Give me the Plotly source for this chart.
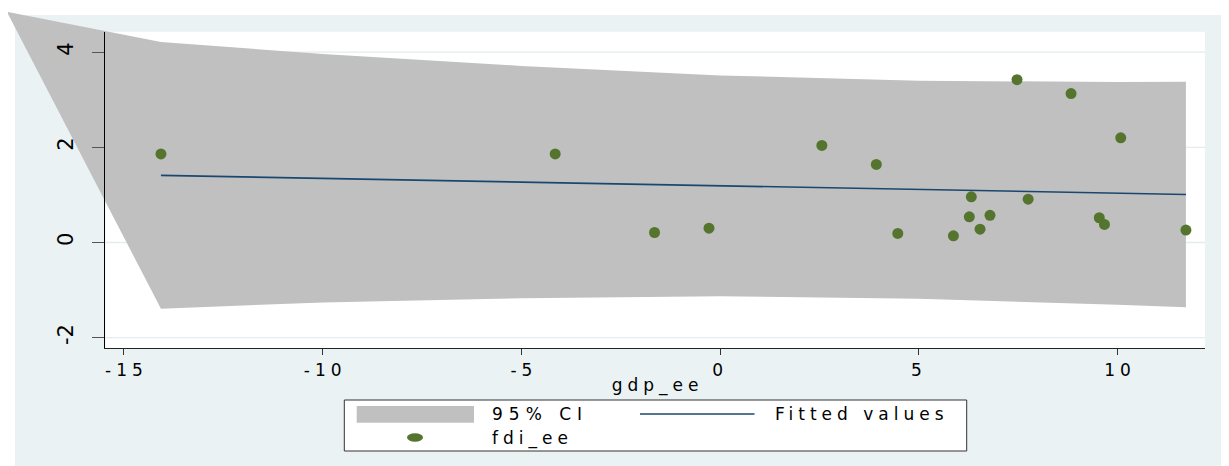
import plotly.graph_objects as go

# ---------------- data ----------------
gdp_ee = [-14.07, -4.15, -1.65, -0.28, 2.56, 3.93, 4.47, 5.87, 6.27, 6.32,
          6.54, 6.79, 7.47, 7.75, 8.83, 9.54, 9.67, 10.08, 11.72]
fdi_ee = [1.86, 1.86, 0.21, 0.30, 2.04, 1.64, 0.19, 0.14, 0.54, 0.96,
          0.28, 0.57, 3.42, 0.91, 3.13, 0.52, 0.38, 2.20, 0.26]

fit_x = [-14.07, 11.72]
fit_y = [1.41, 1.01]

ci_x = [-14.07, -12.0, -10.0, -5.0, 0.0, 5.0, 10.0, 11.72]
ci_upper = [4.21, 4.08, 3.96, 3.71, 3.51, 3.40, 3.37, 3.38]
ci_lower = [-1.39, -1.32, -1.26, -1.17, -1.13, -1.18, -1.31, -1.36]
# stray closing vertex of the CI polygon, as it appears in the reference
ci_stray_x = [-17.95]
ci_stray_y = [4.85]

x_ticks = [-15, -10, -5, 0, 5, 10]
y_ticks = [-2, 0, 2, 4]
x_title = "gdp_ee"
legend_labels = ["95% CI", "Fitted values", "fdi_ee"]

# ---------------- layout geometry ----------------
OFF = 8                     # page body margin
W, H = 1229 - OFF, 466 - OFF
# plot area in page pixels
PL, PR, PT, PB = 105.3, 1205.0, 31.7, 348.3
X_RANGE = [-15.47, 12.20]
Y_RANGE = [-2.223, 4.429]

sx = (PR - PL) / (X_RANGE[1] - X_RANGE[0])
sy = (PB - PT) / (Y_RANGE[1] - Y_RANGE[0])
FULL_X = [X_RANGE[0] - (PL - OFF) / sx, X_RANGE[1] + (W + OFF - PR) / sx]
FULL_Y = [Y_RANGE[0] - (H + OFF - PB) / sy, Y_RANGE[1] + (PT - OFF) / sy]


def px(x):
    return (x - OFF) / W


def py(y):
    return 1 - (y - OFF) / H


def spaced(s, sp=5, centered=True):
    # widen text like the stretched reference; for centred text keep the last
    # glyph unspaced so the label stays centred
    if centered and len(s) > 1:
        return f'<span style="letter-spacing:{sp}px">{s[:-1]}</span>{s[-1]}'
    return f'<span style="letter-spacing:{sp}px">{s}</span>'


FONT = "DejaVu Sans"
CI_COLOR = "#C0C0C0"
FIT_COLOR = "#1A476F"
PT_COLOR = "#55752F"
BG_COLOR = "#EAF2F3"
GRID_COLOR = "#E4ECEE"

# CI polygon: upper edge left->right, lower edge right->left, stray vertex
poly_x = ci_x + ci_x[::-1] + ci_stray_x
poly_y = ci_upper + ci_lower[::-1] + ci_stray_y

fig = go.Figure()
# CI band lives on a full-figure subplot so it can spill past the plot area
fig.add_trace(go.Scatter(
    x=poly_x, y=poly_y, mode="lines", fill="toself", fillcolor=CI_COLOR,
    line=dict(width=0, color=CI_COLOR), name=legend_labels[0],
    xaxis="x", yaxis="y", hoverinfo="skip"))
fig.add_trace(go.Scatter(
    x=fit_x, y=fit_y, mode="lines", line=dict(color=FIT_COLOR, width=1.6),
    name=legend_labels[1], xaxis="x2", yaxis="y2"))
fig.add_trace(go.Scatter(
    x=gdp_ee, y=fdi_ee, mode="markers",
    marker=dict(color=PT_COLOR, size=11, line=dict(width=0)),
    name=legend_labels[2], xaxis="x2", yaxis="y2"))

shapes = [
    # outer light background and white plot region
    dict(type="rect", xref="paper", yref="paper", x0=px(15), x1=1, y0=0, y1=py(15),
         fillcolor=BG_COLOR, line=dict(width=0), layer="below"),
    dict(type="rect", xref="paper", yref="paper", x0=px(PL), x1=px(PR), y0=py(PB), y1=py(PT),
         fillcolor="white", line=dict(width=0), layer="below"),
]
for v in y_ticks:
    shapes.append(dict(type="line", xref="paper", yref="y", x0=px(PL), x1=px(PR),
                       y0=v, y1=v, line=dict(color=GRID_COLOR, width=1.3), layer="below"))

# legend (drawn by hand to match the Stata-style key)
shapes += [
    dict(type="rect", xref="paper", yref="paper", x0=px(344.3), x1=px(966.7),
         y0=py(451), y1=py(400), fillcolor="white", line=dict(color="#333333", width=1)),
    dict(type="rect", xref="paper", yref="paper", x0=px(356.7), x1=px(474),
         y0=py(422.7), y1=py(406), fillcolor=CI_COLOR, line=dict(width=0)),
    dict(type="line", xref="paper", yref="paper", x0=px(640), x1=px(754.5),
         y0=py(414), y1=py(414), line=dict(color=FIT_COLOR, width=1.6)),
    dict(type="circle", xref="paper", yref="paper", x0=px(407), x1=px(423),
         y0=py(441.7), y1=py(433.3), fillcolor=PT_COLOR, line=dict(width=0)),
]

annotations = [
    dict(text=spaced(legend_labels[0], 6, False), x=px(489.7), y=py(414.3)),
    dict(text=spaced(legend_labels[1], 5, False), x=px(773), y=py(414.3)),
    dict(text=spaced(legend_labels[2], 5, False), x=px(489.7), y=py(438.3)),
]
for a in annotations:
    a.update(xref="paper", yref="paper", xanchor="left", yanchor="middle",
             showarrow=False, font=dict(family=FONT, size=17, color="black"))

fig.update_layout(
    template="none",
    width=W, height=H,
    margin=dict(l=0, r=0, t=0, b=0, pad=0),
    paper_bgcolor="white",
    plot_bgcolor="rgba(0,0,0,0)",
    showlegend=False,
    font=dict(family=FONT, size=17, color="black"),
    xaxis=dict(domain=[0, 1], range=FULL_X, visible=False, anchor="y", fixedrange=True),
    yaxis=dict(domain=[0, 1], range=FULL_Y, visible=False, anchor="x", fixedrange=True),
    xaxis2=dict(
        domain=[px(PL), px(PR)], anchor="y2", range=X_RANGE,
        showgrid=False, zeroline=False, showline=True, linecolor="#222222", linewidth=1,
        ticks="outside", ticklen=6, tickwidth=1, tickcolor="#333333",
        tickvals=x_ticks, ticktext=[spaced(str(v)) for v in x_ticks],
        tickfont=dict(family=FONT, size=17, color="black"),
        automargin=False, fixedrange=True,
        title=dict(text=spaced(x_title), font=dict(family=FONT, size=17, color="black"),
                   standoff=0),
    ),
    yaxis2=dict(
        domain=[py(PB), py(PT)], anchor="x2", range=Y_RANGE,
        showgrid=False, zeroline=False, showline=True, linecolor="black", linewidth=1,
        ticks="outside", ticklen=12, tickwidth=1, tickcolor="#555555",
        tickvals=y_ticks, ticktext=[str(v) for v in y_ticks], tickangle=-90,
        tickfont=dict(family=FONT, size=21, color="black"),
        ticklabelstandoff=11,
        automargin=False, fixedrange=True,
    ),
    shapes=shapes,
    annotations=annotations,
)

fig.write_html("out.html")
